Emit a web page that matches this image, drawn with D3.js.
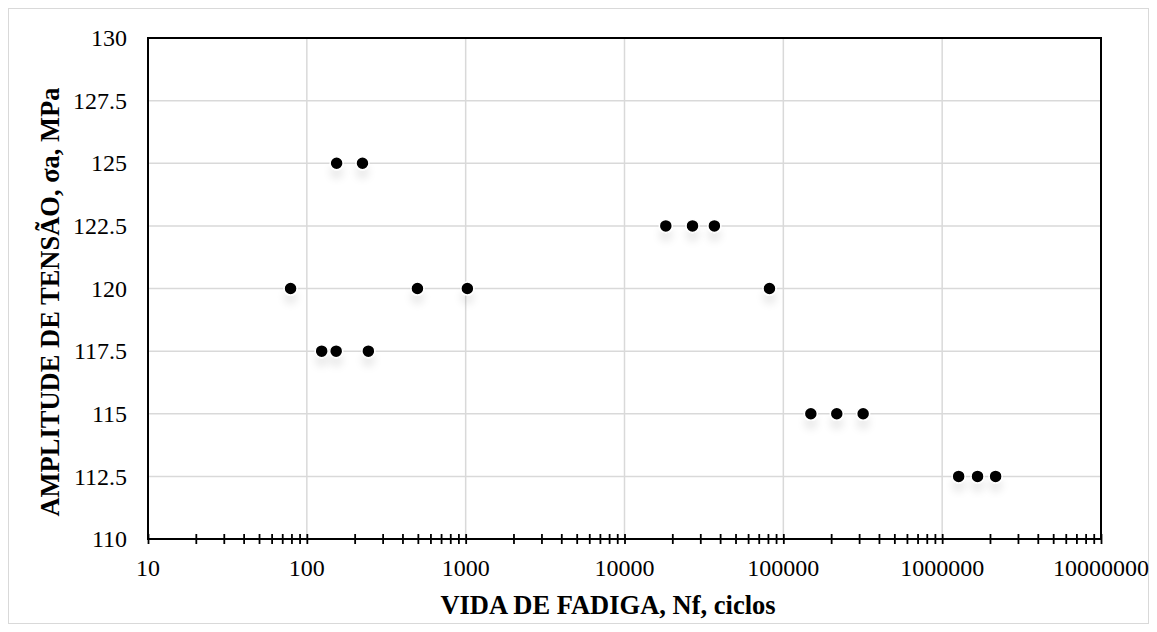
<!DOCTYPE html>
<html>
<head>
<meta charset="utf-8">
<script src="https://cdn.jsdelivr.net/npm/d3@7"></script>
<style>
  body { margin: 0; background: #fff; }
  svg { display: block; font-family: "Liberation Serif", "Times New Roman", serif; }
</style>
</head>
<body>
<svg id="chart"></svg>
<script>
// ciclos até a falha
const ciclos = [154, 224, 79, 497, 1025, 124, 153, 244,
  18200, 26800, 36800, 81800, 149000, 217000, 318000,
  1270000, 1670000, 2170000];
// amplitude de tensão, MPa
const tensao = [125, 125, 120, 120, 120, 117.5, 117.5, 117.5,
  122.5, 122.5, 122.5, 120, 115, 115, 115,
  112.5, 112.5, 112.5];
const xTicks = [10, 100, 1000, 10000, 100000, 1000000, 10000000];
const yTicks = [110, 112.5, 115, 117.5, 120, 122.5, 125, 127.5, 130];

const width = 1157;
const height = 632;
const margin = { top: 38, right: 56, bottom: 93, left: 148 };

const svg = d3.select("#chart")
    .attr("width", width)
    .attr("height", height);

// moldura externa
svg.append("rect")
    .attr("x", 8.5).attr("y", 8.5)
    .attr("width", width - 17).attr("height", height - 17)
    .attr("fill", "#fff")
    .attr("stroke", "#d9d9d9");

const x = d3.scaleLog()
    .domain([10, 10000000])
    .range([margin.left, width - margin.right]);

const y = d3.scaleLinear()
    .domain([110, 130])
    .range([height - margin.bottom, margin.top]);

// sombra dos marcadores
const defs = svg.append("defs");
defs.append("filter")
    .attr("id", "sombra")
    .attr("x", "-100%").attr("y", "-100%")
    .attr("width", "300%").attr("height", "400%")
  .append("feDropShadow")
    .attr("dx", 0).attr("dy", 9)
    .attr("stdDeviation", 3.5)
    .attr("flood-color", "#000")
    .attr("flood-opacity", 0.07);

// grade
svg.append("g")
    .selectAll("line")
    .data(yTicks)
    .join("line")
    .attr("x1", x.range()[0]).attr("x2", x.range()[1])
    .attr("y1", d => y(d)).attr("y2", d => y(d))
    .attr("stroke", "#d9d9d9")
    .attr("stroke-width", 1.5);

svg.append("g")
    .selectAll("line")
    .data(xTicks)
    .join("line")
    .attr("x1", d => x(d)).attr("x2", d => x(d))
    .attr("y1", y.range()[0]).attr("y2", y.range()[1])
    .attr("stroke", "#d9d9d9")
    .attr("stroke-width", 1.5);

// eixo X com marcas secundárias cruzando o eixo
const xAxis = svg.append("g")
    .attr("transform", `translate(0,${height - margin.bottom})`)
    .call(d3.axisBottom(x)
        .tickValues(x.ticks())
        .tickSize(0)
        .tickFormat(""));
xAxis.select(".domain").remove();
xAxis.selectAll(".tick line")
    .attr("y1", -5).attr("y2", 5)
    .attr("stroke", "#000")
    .attr("stroke-width", 1.8);

svg.append("g")
    .selectAll("text")
    .data(xTicks)
    .join("text")
    .attr("x", d => x(d))
    .attr("y", height - margin.bottom + 37)
    .attr("text-anchor", "middle")
    .attr("font-size", 24)
    .attr("fill", "#000")
    .text(d => d);

// rótulos do eixo Y
svg.append("g")
    .selectAll("text")
    .data(yTicks)
    .join("text")
    .attr("x", margin.left - 21)
    .attr("y", d => y(d))
    .attr("dy", "0.34em")
    .attr("text-anchor", "end")
    .attr("font-size", 24)
    .attr("fill", "#000")
    .text(d => d);

// moldura da área do gráfico
svg.append("rect")
    .attr("x", x.range()[0]).attr("y", y.range()[1])
    .attr("width", x.range()[1] - x.range()[0])
    .attr("height", y.range()[0] - y.range()[1])
    .attr("fill", "none")
    .attr("stroke", "#000")
    .attr("stroke-width", 2);

// pontos
svg.append("g")
    .selectAll("circle")
    .data(ciclos)
    .join("circle")
    .attr("cx", d => x(d))
    .attr("cy", (_, i) => y(tensao[i]))
    .attr("r", 6.5)
    .attr("fill", "#000")
    .attr("stroke", "#fff")
    .attr("stroke-width", 1.5)
    .attr("filter", "url(#sombra)");

// títulos dos eixos
svg.append("text")
    .attr("x", 608)
    .attr("y", 614)
    .attr("text-anchor", "middle")
    .attr("font-size", 26.5)
    .attr("font-weight", "bold")
    .text("VIDA DE FADIGA, Nf, ciclos");

svg.append("text")
    .attr("transform", "translate(59,302) rotate(-90)")
    .attr("text-anchor", "middle")
    .attr("font-size", 26.5)
    .attr("font-weight", "bold")
    .text("AMPLITUDE DE TENSÃO, σa, MPa");
</script>
</body>
</html>
